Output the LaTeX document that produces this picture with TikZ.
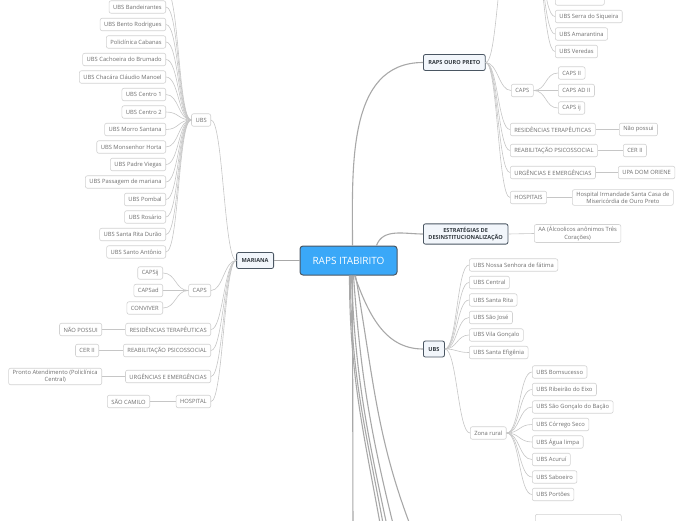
\documentclass[tikz,border=0pt]{standalone}
\usepackage{fontspec}
\setmainfont{Open Sans}
\usepackage{tikz}
\usetikzlibrary{calc}
\definecolor{rootblue}{HTML}{3AA8F8}
\definecolor{rootline}{HTML}{4A5662}
\definecolor{hubfill}{HTML}{F2F6FB}
\definecolor{hubtext}{HTML}{333A40}
\definecolor{leafline}{HTML}{D2D2D2}
\definecolor{leaftext}{HTML}{6E6E6E}
\definecolor{linkdark}{HTML}{A8A8A8}
\definecolor{linklight}{HTML}{C6C6C6}

\tikzset{
  root/.style={draw=rootline,fill=rootblue,line width=1pt,rounded corners=3pt,text=white,
    font=\fontsize{10}{12}\selectfont,minimum width=97pt,minimum height=29pt},
  hub/.style={draw=rootline,fill=hubfill,line width=0.8pt,rounded corners=2pt,text=hubtext,
    font=\fontsize{5.6}{7}\selectfont\bfseries,minimum height=16pt,inner xsep=5pt},
  leaf/.style={draw=leafline,fill=white,line width=0.6pt,rounded corners=2pt,text=leaftext,
    font=\fontsize{5.8}{7.2}\selectfont,minimum height=12.5pt,inner xsep=4pt,inner ysep=2pt},
  trunk/.style={draw=linkdark,line width=1.1pt},
  twig/.style={draw=linklight,line width=0.6pt},
  toleft/.style={out=180,in=0,distance=12pt},
  toright/.style={out=0,in=180,distance=12pt}
}

\begin{document}
\begin{tikzpicture}[x=1pt,y=-1pt]
\useasboundingbox (0,0) rectangle (696,520);

% centre and main branches
\node[root] (itab) at (348.5,260.5) {RAPS ITABIRITO};
\node[hub,anchor=east] (mar) at (274,260.5) {MARIANA};
\node[hub,anchor=west] (ouro) at (423,62.5) {RAPS OURO PRETO};
\node[hub,anchor=west,align=center] (estr) at (423,234) {ESTRATÉGIAS DE\\DESINSTITUCIONALIZAÇÃO};
\node[hub,anchor=west] (ubs) at (423,349) {UBS};

% Mariana
\node[leaf,anchor=east] (mubs) at (211,120) {UBS};
\node[leaf,anchor=east] (mcaps) at (211,290.5) {CAPS};
\node[leaf,anchor=east] (mres) at (211,329.5) {RESIDÊNCIAS TERAPÊUTICAS};
\node[leaf,anchor=east] (mreab) at (211,350.5) {REABILITAÇÃO PSICOSSOCIAL};
\node[leaf,anchor=east] (murg) at (211,376.5) {URGÊNCIAS E EMERGÊNCIAS};
\node[leaf,anchor=east] (mhosp) at (211,401.5) {HOSPITAL};

\coordinate (mu0) at (166,-10.5);
\node[leaf,anchor=east] (mu1) at (166,7) {UBS Bandeirantes};
\node[leaf,anchor=east] (mu2) at (166,24.5) {UBS Bento Rodrigues};
\node[leaf,anchor=east] (mu3) at (166,42) {Policlínica Cabanas};
\node[leaf,anchor=east] (mu4) at (166,59.5) {UBS Cachoeira do Brumado};
\node[leaf,anchor=east] (mu5) at (166,77) {UBS Chacára Cláudio Manoel};
\node[leaf,anchor=east] (mu6) at (166,94.5) {UBS Centro 1};
\node[leaf,anchor=east] (mu7) at (166,112) {UBS Centro 2};
\node[leaf,anchor=east] (mu8) at (166,129.5) {UBS Morro Santana};
\node[leaf,anchor=east] (mu9) at (166,147) {UBS Monsenhor Horta};
\node[leaf,anchor=east] (mu10) at (166,164.5) {UBS Padre Viegas};
\node[leaf,anchor=east] (mu11) at (166,182) {UBS Passagem de mariana};
\node[leaf,anchor=east] (mu12) at (166,199.5) {UBS Pombal};
\node[leaf,anchor=east] (mu13) at (166,217) {UBS Rosário};
\node[leaf,anchor=east] (mu14) at (166,234.5) {UBS Santa Rita Durão};
\node[leaf,anchor=east] (mu15) at (166,252) {UBS Santo Antônio};

\node[leaf,anchor=east] (mcij) at (163,273) {CAPSij};
\node[leaf,anchor=east] (mcad) at (163,290.5) {CAPSad};
\node[leaf,anchor=east] (mconv) at (163,308) {CONVIVER};
\node[leaf,anchor=east] (mnao) at (102,329.5) {NÃO POSSUI};
\node[leaf,anchor=east] (mcer) at (99,350.5) {CER II};
\node[leaf,anchor=east,align=center] (mpronto) at (102,376.5) {Pronto Atendimento (Policlínica\\Central)};
\node[leaf,anchor=east] (mcam) at (150,401.5) {SÃO CAMILO};

% Ouro Preto
\coordinate (oubsw) at (510,-60);
\coordinate (oubse) at (531,-60);
\node[leaf,anchor=west,minimum width=49pt] (ou0) at (555,-1) {};
\node[leaf,anchor=west] (ou1) at (555,16.5) {UBS Serra do Siqueira};
\node[leaf,anchor=west] (ou2) at (555,34) {UBS Amarantina};
\node[leaf,anchor=west] (ou3) at (555,51.5) {UBS Veredas};
\node[leaf,anchor=west] (ocaps) at (511,90.5) {CAPS};
\node[leaf,anchor=west] (oc1) at (558,73) {CAPS II};
\node[leaf,anchor=west] (oc2) at (558,90.5) {CAPS AD II};
\node[leaf,anchor=west] (oc3) at (558,108) {CAPS ij};
\node[leaf,anchor=west] (ores) at (510,129.5) {RESIDÊNCIAS TERAPÊUTICAS};
\node[leaf,anchor=west] (oreab) at (510,150.5) {REABILITAÇÃO PSICOSSOCIAL};
\node[leaf,anchor=west] (ourg) at (510,172.5) {URGÊNCIAS E EMERGÊNCIAS};
\node[leaf,anchor=west] (ohosp) at (510,197.5) {HOSPITAIS};
\node[leaf,anchor=west] (onao) at (619,129.5) {Não possui};
\node[leaf,anchor=west] (ocer) at (623,150.5) {CER II};
\node[leaf,anchor=west] (oupa) at (618,172.5) {UPA DOM ORIENE};
\node[leaf,anchor=west,align=center] (osanta) at (572,197.5) {Hospital Irmandade Santa Casa de\\Misericórdia de Ouro Preto};

% estrategias
\node[leaf,anchor=west,align=center] (aa) at (534,233.5) {AA (Álcoolicos anônimos Três\\Corações)};

% UBS Itabirito
\node[leaf,anchor=west] (iu1) at (469,265) {UBS Nossa Senhora de fátima};
\node[leaf,anchor=west] (iu2) at (469,282.5) {UBS Central};
\node[leaf,anchor=west] (iu3) at (469,300) {UBS Santa Rita};
\node[leaf,anchor=west] (iu4) at (469,317.5) {UBS São José};
\node[leaf,anchor=west] (iu5) at (469,335) {UBS Vila Gonçalo};
\node[leaf,anchor=west] (iu6) at (469,352.5) {UBS Santa Efigênia};
\node[leaf,anchor=west] (zona) at (470,433) {Zona rural};
\node[leaf,anchor=west] (z1) at (532,372) {UBS Bomsucesso};
\node[leaf,anchor=west] (z2) at (532,389.5) {UBS Ribeirão do Eixo};
\node[leaf,anchor=west] (z3) at (532,407) {UBS São Gonçalo do Bação};
\node[leaf,anchor=west] (z4) at (532,424.5) {UBS Córrego Seco};
\node[leaf,anchor=west] (z5) at (532,442) {UBS Água limpa};
\node[leaf,anchor=west] (z6) at (532,459.5) {UBS Acuruí};
\node[leaf,anchor=west] (z7) at (532,477) {UBS Saboeiro};
\node[leaf,anchor=west] (z8) at (532,494.5) {UBS Portões};
\node[leaf,anchor=north west,minimum width=86pt,minimum height=16pt] (low) at (535,514) {};

% branches below the page
\coordinate (dn1) at (353,540);
\coordinate (dn2) at (383,540);
\coordinate (dn3) at (386,540);
\coordinate (dn4) at (390,540);
\coordinate (dn5) at (397,540);
\coordinate (dn6) at (416,540);

% connectors from the centre
\draw[trunk] (itab.west) -- (mar.east);
\draw[trunk] ($(itab.north)+(4,0)$) to[out=90,in=180] (ouro.west);
\draw[trunk] ($(itab.north)+(28,0)$) to[out=70,in=180] (estr.west);
\draw[trunk] ($(itab.south)+(6,0)$) to[out=-70,in=180] (ubs.west);
\draw[trunk] ($(itab.south)+(4,0)$) -- (dn1);
\draw[trunk] ($(itab.south)+(1,0)$) to[out=-90,in=100] (dn2);
\draw[trunk] ($(itab.south)+(2,0)$) to[out=-90,in=100] (dn3);
\draw[trunk] ($(itab.south)+(3,0)$) to[out=-88,in=102] (dn4);
\draw[trunk] ($(itab.south)+(5,0)$) to[out=-86,in=104] (dn5);
\draw[trunk] ($(itab.south)+(7,0)$) to[out=-80,in=112] (dn6);

% Mariana connectors
\foreach \k in {mubs,mcaps,mres,mreab,murg,mhosp}
  \draw[twig] (mar.west) to[toleft] (\k.east);
\draw[twig] (mubs.west) to[toleft,distance=13pt] (mu0);
\foreach \k in {1,...,15}
  \draw[twig] (mubs.west) to[toleft,distance=13pt] (mu\k.east);
\foreach \k in {mcij,mcad,mconv}
  \draw[twig] (mcaps.west) to[toleft,distance=13pt] (\k.east);
\draw[twig] (mres.west) -- (mnao.east);
\draw[twig] (mreab.west) -- (mcer.east);
\draw[twig] (murg.west) -- (mpronto.east);
\draw[twig] (mhosp.west) -- (mcam.east);

% Ouro Preto connectors
\foreach \k in {ocaps,ores,oreab,ourg,ohosp}
  \draw[twig] (ouro.east) to[toright] (\k.west);
\draw[twig] (ouro.east) to[toright] (oubsw);
\foreach \k in {ou0,ou1,ou2,ou3}
  \draw[twig] (oubse) to[toright] (\k.west);
\foreach \k in {oc1,oc2,oc3}
  \draw[twig] (ocaps.east) to[toright,distance=13pt] (\k.west);
\draw[twig] (ores.east) -- (onao.west);
\draw[twig] (oreab.east) -- (ocer.west);
\draw[twig] (ourg.east) -- (oupa.west);
\draw[twig] (ohosp.east) -- (osanta.west);
\draw[twig] (estr.east) -- (aa.west);

% UBS Itabirito connectors
\foreach \k in {iu1,iu2,iu3,iu4,iu5,iu6,zona}
  \draw[twig] (ubs.east) to[toright] (\k.west);
\foreach \k in {z1,z2,z3,z4,z5,z6,z7,z8}
  \draw[twig] (zona.east) to[toright,distance=13pt] (\k.west);
\end{tikzpicture}
\end{document}
